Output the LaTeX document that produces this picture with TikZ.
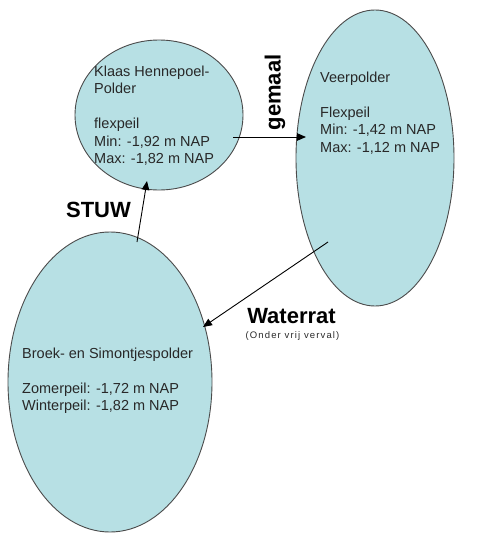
\documentclass[tikz,border=0pt]{standalone}
\usepackage{fontspec}
\setmainfont{Liberation Sans}
\usetikzlibrary{shapes.geometric,arrows.meta}
\definecolor{polderfill}{RGB}{183,224,228}
\definecolor{polderline}{RGB}{75,75,75}
\definecolor{poldertext}{RGB}{40,40,40}
\begin{document}
\begin{tikzpicture}[x=1pt,y=-1pt,
  polder/.style={ellipse,draw=polderline,line width=0.9pt,fill=polderfill,inner sep=0pt},
  info/.style={anchor=north west,inner sep=0pt,align=left,text=poldertext,
    font=\fontsize{14.5}{17.5}\selectfont},
  flow/.style={draw=black,line width=0.9pt,-{Triangle[length=9pt,width=7.5pt]}},
  flowlabel/.style={inner sep=0pt,font=\fontsize{22}{24}\selectfont\bfseries}]
\useasboundingbox (0,0) rectangle (478,535);

% polders
\node[polder,minimum width=168pt,minimum height=150pt] (klaas) at (159,115) {};
\node[polder,minimum width=158pt,minimum height=296pt] (veer) at (375,158) {};
\node[polder,minimum width=204pt,minimum height=300pt] (broek) at (110,382) {};

% water levels per polder
\node[info] (klaastext) at (94,65.5) {Klaas Hennepoel-\\Polder\\[17.5pt]flexpeil\\Min: -1,92 m NAP\\Max: -1,82 m NAP};
\node[info] (veertext) at (320,71.5) {Veerpolder\\[17.5pt]Flexpeil\\Min: -1,42 m NAP\\Max: -1,12 m NAP};
\node[info] (broektext) at (22,347.5) {Broek- en Simontjespolder\\[17.5pt]Zomerpeil: -1,72 m NAP\\Winterpeil: -1,82 m NAP};

% connections between the polders
\coordinate (gemaal-from) at (233,137);
\coordinate (gemaal-to) at (306,137);
\coordinate (stuw-from) at (137,242);
\coordinate (stuw-to) at (147,181);
\coordinate (rat-from) at (328,242);
\coordinate (rat-to) at (203,327);
\draw[flow] (gemaal-from) -- (gemaal-to);
\draw[flow] (stuw-from) -- (stuw-to);
\draw[flow] (rat-from) -- (rat-to);

% labels of the structures
\node[flowlabel,rotate=90] (gemaal) at (275,92.5) {gemaal};
\node[flowlabel] (stuw) at (98.5,209.5) {STUW};
\node[flowlabel] (waterrat) at (291.5,316) {Waterrat};
\node[inner sep=0pt,font=\fontsize{9.5}{11}\selectfont\addfontfeature{LetterSpace=12},text=poldertext] (verval) at (292.5,336) {(Onder vrij verval)};
\end{tikzpicture}
\end{document}
